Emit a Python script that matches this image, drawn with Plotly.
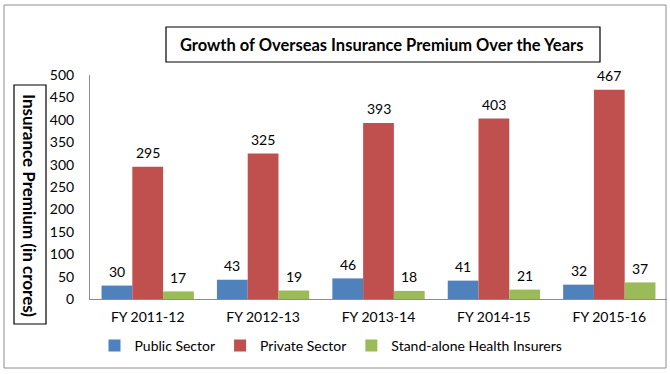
import plotly.graph_objects as go

categories = ["FY 2011-12", "FY 2012-13", "FY 2013-14", "FY 2014-15", "FY 2015-16"]
public_sector = [30, 43, 46, 41, 32]
private_sector = [295, 325, 393, 403, 467]
standalone_health = [17, 19, 18, 21, 37]
series_names = ["Public Sector", "Private Sector", "Stand-alone Health Insurers"]
series_colors = ["#4F81BD", "#C0504D", "#9BBB59"]
y_ticks = [0, 50, 100, 150, 200, 250, 300, 350, 400, 450, 500]

W, H = 670, 374
ML, MR, MT, MB = 90, 3, 75, 75
PW = W - ML - MR
PH = H - MT - MB
FONT = "Lato, Open Sans, sans-serif"

fig = go.Figure()
all_series = [public_sector, private_sector, standalone_health]
for name, vals, col in zip(series_names, all_series, series_colors):
    fig.add_trace(go.Bar(x=categories, y=vals, name=name, marker_color=col,
                         marker_line_width=0))

def px_x(px):
    return (px - ML) / PW

def px_y(py):
    return (H - MB - py) / PH

cat_w = PW / len(categories)
bar_w = cat_w * 0.8 / 3
annotations = []
for i, vals in enumerate(all_series):
    for c, v in zip(categories, vals):
        annotations.append(dict(x=c, y=v, xref="x", yref="y", text=str(v),
                                showarrow=False, xshift=(i - 1) * bar_w,
                                yshift=14, yanchor="middle",
                                font=dict(family=FONT, size=14, color="#000")))

# title
annotations.append(dict(x=px_x(381), y=px_y(45), xref="paper", yref="paper",
                        text="<b>Growth of Overseas Insurance Premium Over the Years</b>",
                        showarrow=False, xanchor="center", yanchor="middle",
                        font=dict(family=FONT, size=16.5, color="#000")))
# y title
annotations.append(dict(x=px_x(30), y=px_y(205), xref="paper", yref="paper",
                        text="<b>Insurance Premium (in crores)</b>", textangle=90,
                        showarrow=False, xanchor="center", yanchor="middle",
                        font=dict(family=FONT, size=17, color="#000")))

shapes = [
    dict(type="rect", xref="paper", yref="paper", x0=px_x(4), x1=px_x(666),
         y0=px_y(5), y1=px_y(368), line=dict(color="#8c8c8c", width=1)),
    dict(type="rect", xref="paper", yref="paper", x0=px_x(166), x1=px_x(600),
         y0=px_y(27), y1=px_y(62), line=dict(color="#000", width=1.2)),
    dict(type="rect", xref="paper", yref="paper", x0=px_x(14), x1=px_x(46),
         y0=px_y(85), y1=px_y(324), line=dict(color="#000", width=1.2)),
]

fig.update_layout(
    width=W, height=H,
    margin=dict(l=ML, r=MR, t=MT, b=MB, pad=0),
    paper_bgcolor="white", plot_bgcolor="white",
    barmode="group", bargap=0.2, bargroupgap=0,
    font=dict(family=FONT, size=14, color="#000"),
    showlegend=True,
    legend=dict(orientation="h", x=px_x(331), y=px_y(346), xanchor="center",
                yanchor="middle", font=dict(family=FONT, size=14, color="#000"),
                itemwidth=30, traceorder="normal"),
    annotations=annotations,
    shapes=shapes,
)
fig.update_xaxes(showgrid=False, showline=True, linecolor="#8c8c8c", linewidth=1,
                 ticks="", tickfont=dict(family=FONT, size=14), ticklabelstandoff=5)
fig.update_yaxes(range=[0, 500], tickvals=y_ticks, showgrid=False, showline=True,
                 linecolor="#8c8c8c", linewidth=1, ticks="", zeroline=False,
                 tickfont=dict(family=FONT, size=14), ticklabelstandoff=12)

fig.write_html("out.html", config={"displayModeBar": False},
               post_script="document.body.style.margin='0';document.body.style.overflow='hidden';")
